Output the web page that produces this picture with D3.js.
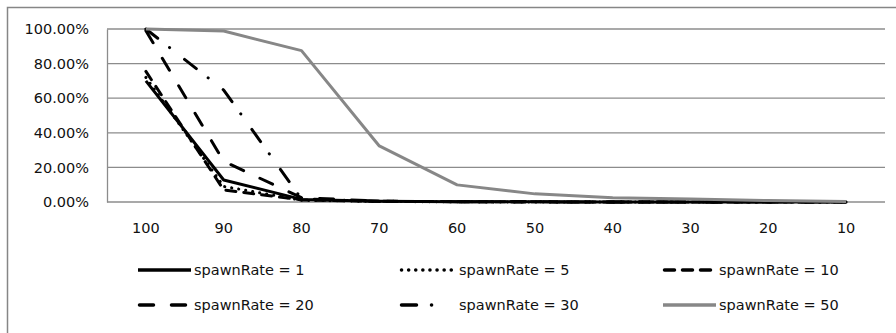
<!DOCTYPE html>
<html>
<head>
<meta charset="utf-8">
<script src="https://cdn.jsdelivr.net/npm/d3@7"></script>
<style>
  body { margin: 0; background: #fff; }
  text { font-family: "DejaVu Sans", Verdana, sans-serif; fill: #111; }
</style>
</head>
<body>
<div id="container"></div>
<script>
/* DATA */
const categories = [100, 90, 80, 70, 60, 50, 40, 30, 20, 10];
const yTicks = [0, 0.2, 0.4, 0.6, 0.8, 1.0];
const seriesNames = ["spawnRate = 1", "spawnRate = 5", "spawnRate = 10",
  "spawnRate = 20", "spawnRate = 30", "spawnRate = 50"];
const rate1 = [0.70, 0.127, 0.015, 0.004, 0.002, 0.001, 0, 0, 0, 0];
const rate5 = [0.72, 0.09, 0.01, 0.003, 0.001, 0, 0, 0, 0, 0];
const rate10 = [0.755, 0.07, 0.012, 0.004, 0.002, 0.001, 0, 0, 0, 0];
const rate20 = [0.99, 0.235, 0.025, 0.005, 0.002, 0.001, 0, 0, 0, 0];
const rate30 = [1.0, 0.647, 0.018, 0.004, 0.002, 0.001, 0, 0, 0, 0];
const rate50 = [1.0, 0.988, 0.875, 0.324, 0.099, 0.047, 0.025, 0.017, 0.008, 0.003];
const seriesValues = [rate1, rate5, rate10, rate20, rate30, rate50];

/* CONSTANTS AND GLOBALS */
const width = 896,
  height = 333,
  margin = { top: 29, bottom: 131, left: 107, right: 11 };

// line styles per series
const styles = [
  { color: "#000", dash: null, cap: "butt" },
  { color: "#000", dash: "0.1,7", cap: "round" },
  { color: "#000", dash: "10,8", cap: "round" },
  { color: "#000", dash: "14,18", cap: "round" },
  { color: "#000", dash: "15,15,0.1,19", cap: "round" },
  { color: "#878787", dash: null, cap: "butt" }
];

const svg = d3.select("#container")
  .append("svg")
  .attr("width", width)
  .attr("height", height);

// outer chart border (runs off right and bottom)
svg.append("rect")
  .attr("x", 7.5).attr("y", 7.5)
  .attr("width", width + 10).attr("height", height + 10)
  .attr("fill", "none")
  .attr("stroke", "#868686")
  .attr("stroke-width", 1.5);

/* SCALES */
const xScale = d3.scaleBand()
  .domain(categories)
  .range([margin.left, width - margin.right]);

const yScale = d3.scaleLinear()
  .domain([0, 1])
  .range([height - margin.bottom, margin.top]);

// gridlines
svg.append("g")
  .selectAll("line")
  .data(yTicks)
  .join("line")
  .attr("x1", margin.left)
  .attr("x2", width - margin.right)
  .attr("y1", d => yScale(d))
  .attr("y2", d => yScale(d))
  .attr("stroke", "#8c8c8c")
  .attr("stroke-width", 1.3);

// y axis
const yAxis = svg.append("g")
  .attr("transform", `translate(${margin.left},0)`)
  .call(d3.axisLeft(yScale).tickValues(yTicks).tickFormat(d3.format(".2%")).tickSize(0).tickPadding(18));
yAxis.select(".domain").attr("stroke", "#8c8c8c").attr("stroke-width", 1.3);
yAxis.selectAll("text").style("font-size", "14.5px").attr("font-family", null);

// x axis
const xAxis = svg.append("g")
  .attr("transform", `translate(0,${height - margin.bottom})`)
  .call(d3.axisBottom(xScale).tickSize(0).tickPadding(21));
xAxis.select(".domain").remove();
xAxis.selectAll("text").style("font-size", "14.5px").attr("font-family", null);

// lines
const line = d3.line()
  .x((d, i) => xScale(categories[i]) + xScale.bandwidth() / 2)
  .y(d => yScale(d));

svg.append("g")
  .selectAll("path")
  .data(seriesValues)
  .join("path")
  .attr("d", d => line(d))
  .attr("fill", "none")
  .attr("stroke", (d, i) => styles[i].color)
  .attr("stroke-width", 3)
  .attr("stroke-linejoin", "round")
  .attr("stroke-linecap", (d, i) => styles[i].cap)
  .attr("stroke-dasharray", (d, i) => styles[i].dash);

// legend
const legendX = [138, 400, 663];
const legendY = [270, 305];
const legend = svg.append("g")
  .selectAll("g")
  .data(seriesNames)
  .join("g")
  .attr("transform", (d, i) => `translate(${legendX[i % 3]},${legendY[Math.floor(i / 3)]})`);

legend.append("line")
  .attr("x1", (d, i) => styles[i].cap === "round" ? 1.5 : 0)
  .attr("x2", (d, i) => styles[i].cap === "round" ? (i === 4 ? 36 : 51.5) : 53)
  .attr("y1", 0).attr("y2", 0)
  .attr("stroke", (d, i) => styles[i].color)
  .attr("stroke-width", 3.5)
  .attr("stroke-linecap", (d, i) => styles[i].cap)
  .attr("stroke-dasharray", (d, i) => styles[i].dash);

legend.append("text")
  .attr("x", (d, i) => i % 3 === 1 ? 59 : 56)
  .attr("y", 0)
  .attr("dy", "0.35em")
  .style("font-size", "14.5px")
  .text(d => d);
</script>
</body>
</html>
